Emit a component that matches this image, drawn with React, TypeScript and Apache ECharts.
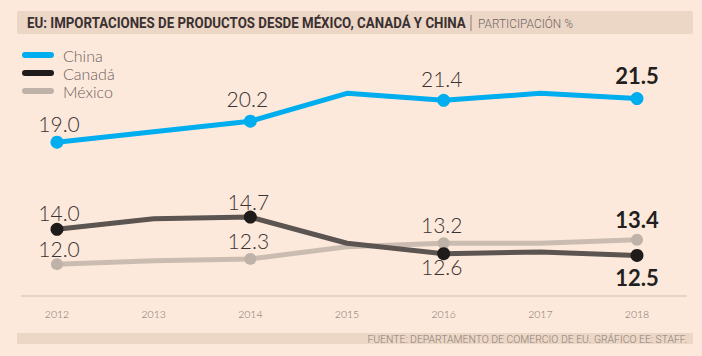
import React, { useEffect, useRef } from "react";
import * as echarts from "echarts";

const years = ["2012", "2013", "2014", "2015", "2016", "2017", "2018"];
const china = [19.0, 19.6, 20.2, 21.8, 21.4, 21.8, 21.5];
const canada = [14.0, 14.6, 14.7, 13.2, 12.6, 12.7, 12.5];
const mexico = [12.0, 12.2, 12.3, 13.0, 13.2, 13.2, 13.4];
const labelled = [0, 2, 4, 6];

const TITLE = "EU: IMPORTACIONES DE PRODUCTOS DESDE MÉXICO, CANADÁ Y CHINA";
const SUBTITLE = "PARTICIPACIÓN %";
const SOURCE = "FUENTE: DEPARTAMENTO DE COMERCIO DE EU. GRÁFICO EE: STAFF.";

const LIGHT = "Lato, 'Open Sans', sans-serif";
const BOLDF = "Lato, 'Open Sans', sans-serif";

function measure(font: string, text: string): number {
  const c = document.createElement("canvas");
  const ctx = c.getContext("2d");
  if (!ctx) return 0;
  ctx.font = font;
  return ctx.measureText(text).width;
}

function fitScale(font: string, text: string, target: number): number {
  const w = measure(font, text);
  return w > 0 ? target / w : 1;
}

type Spec = { dx: number; dy: number; bold?: boolean };

function buildData(vals: number[], specs: Record<number, Spec>) {
  return vals.map((v, i) => {
    const s = specs[i];
    if (!labelled.includes(i) || !s) {
      return { value: v, symbol: "none", label: { show: false } };
    }
    return {
      value: v,
      label: {
        show: true,
        position: "inside",
        offset: [s.dx, s.dy],
        formatter: (p: any) => Number(p.value).toFixed(1),
        fontFamily: s.bold ? BOLDF : LIGHT,
        fontWeight: s.bold ? 700 : 300,
        fontSize: s.bold ? 22 : 21,
        color: s.bold ? "#231f20" : "#3a3333",
      },
    };
  });
}

export default function App() {
  const ref = useRef<HTMLDivElement>(null);
  useEffect(() => {
    if (!ref.current) return;
    const chart = echarts.init(ref.current, null, { renderer: "svg" });
    const titleFont = "bold 14px Roboto";
    const subFont = "300 13px Roboto";
    const srcFont = "300 10.5px Roboto";
    const titleScale = fitScale(titleFont, TITLE, 439);
    const subScale = fitScale(subFont, SUBTITLE, 95);
    const srcScale = fitScale(srcFont, SOURCE, 320);
    const option: any = {
      animation: false,
      backgroundColor: "#fde9db",
      grid: { left: 57, right: 65, top: 55, bottom: 57 },
      xAxis: {
        type: "category",
        data: years,
        boundaryGap: false,
        axisLine: { show: false },
        axisTick: { show: false },
        axisLabel: { color: "#7a706b", fontSize: 10.5, fontFamily: LIGHT, fontWeight: 300, margin: 9 },
        splitLine: { show: false },
      },
      yAxis: {
        type: "value",
        min: 10,
        max: 24,
        show: false,
        splitLine: { show: false },
      },
      legend: {
        data: ["China", "Canadá", "México"],
        orient: "vertical",
        left: 17,
        top: 42,
        itemWidth: 32,
        itemHeight: 6,
        itemGap: 2,
        icon: "path://M3,0 H29 A3,3 0 0 1 29,6 H3 A3,3 0 0 1 3,0 Z",
        textStyle: { fontFamily: LIGHT, fontWeight: 300, fontSize: 16, lineHeight: 16, color: "#6d625e", padding: [0, 0, 0, 4] },
        selectedMode: false,
      },
      graphic: [
        { type: "rect", shape: { x: 17, y: 11, width: 676, height: 23, r: 2 }, style: { fill: "#ecd6c6" }, silent: true },
        {
          type: "text",
          x: 27,
          y: 23,
          scaleX: titleScale,
          style: { text: TITLE, fontFamily: "Roboto", fontWeight: "bold", fontSize: 14, fill: "#3a3030", verticalAlign: "middle", align: "left" },
        },
        { type: "line", shape: { x1: 471, y1: 15, x2: 471, y2: 31 }, style: { stroke: "#8a7e76", lineWidth: 1 } },
        {
          type: "text",
          x: 478,
          y: 23,
          scaleX: subScale,
          style: { text: SUBTITLE, fontFamily: "Roboto", fontWeight: 300, fontSize: 13, fill: "#6f6560", verticalAlign: "middle", align: "left" },
        },
        { type: "line", shape: { x1: 21, y1: 296, x2: 687, y2: 296 }, style: { stroke: "#dccbbf", lineWidth: 1.5 } },
        { type: "rect", shape: { x: 17, y: 333, width: 676, height: 11 }, style: { fill: "#ecd6c6" }, silent: true },
        {
          type: "text",
          x: 687,
          y: 339,
          scaleX: srcScale,
          style: { text: SOURCE, fontFamily: "Roboto", fontWeight: 300, fontSize: 10.5, fill: "#8a7e76", verticalAlign: "middle", align: "right" },
        },
      ],
      series: [
        {
          name: "México",
          type: "line",
          data: buildData(mexico, {
            0: { dx: 2, dy: -16 },
            2: { dx: -2, dy: -18 },
            4: { dx: -2, dy: -19 },
            6: { dx: 0, dy: -20, bold: true },
          }),
          symbol: "circle",
          symbolSize: 12,
          lineStyle: { color: "#cbbcb1", width: 5 },
          itemStyle: { color: "#bfb2a8" },
          z: 2,
        },
        {
          name: "Canadá",
          type: "line",
          data: buildData(canada, {
            0: { dx: 2, dy: -17 },
            2: { dx: -2, dy: -16 },
            4: { dx: -2, dy: 13 },
            6: { dx: 0, dy: 22, bold: true },
          }),
          symbol: "circle",
          symbolSize: 13,
          lineStyle: { color: "#5b5451", width: 5 },
          itemStyle: { color: "#1f1b1b" },
          z: 3,
        },
        {
          name: "China",
          type: "line",
          data: buildData(china, {
            0: { dx: 2, dy: -19 },
            2: { dx: -3, dy: -23 },
            4: { dx: -2, dy: -22 },
            6: { dx: 0, dy: -23, bold: true },
          }),
          symbol: "circle",
          symbolSize: 13,
          lineStyle: { color: "#00aeef", width: 5 },
          itemStyle: { color: "#00aeef" },
          z: 4,
        },
      ],
    };
    chart.setOption(option);
    return () => chart.dispose();
  }, []);
  return <div ref={ref} style={{ width: 702, height: 356, position: "absolute", left: 0, top: 0 }} />;
}
